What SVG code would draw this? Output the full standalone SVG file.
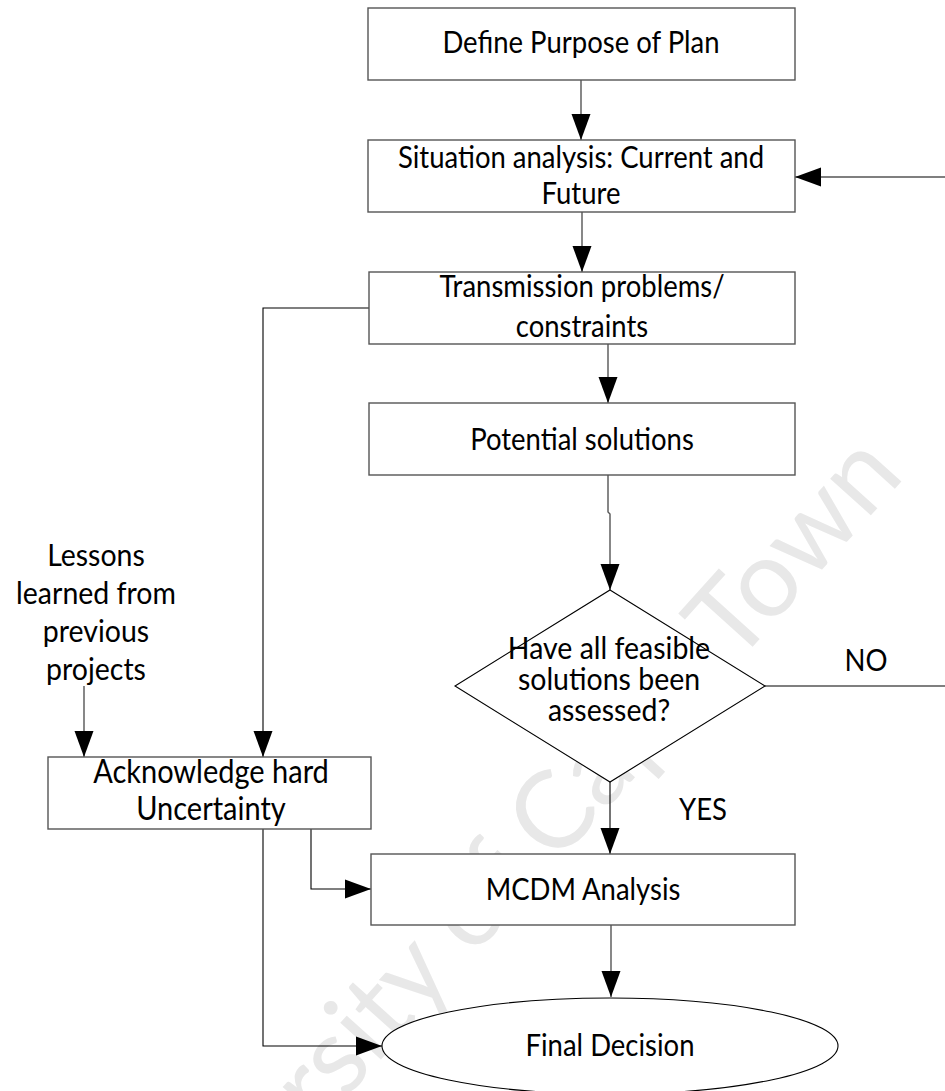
<svg xmlns="http://www.w3.org/2000/svg" width="945" height="1091" viewBox="0 0 945 1091">
<style>
.t{font-family:Lato,"Open Sans","Liberation Sans",sans-serif;font-size:27.5px;fill:#000;text-anchor:middle}
.box{fill:#fff;stroke:#555;stroke-width:1.4}
.shape{fill:#fff;stroke:#000;stroke-width:1.1}
.c{fill:none;stroke:#000;stroke-width:1.1}
.cg{fill:none;stroke:#555;stroke-width:1.4}
.wm{font-family:Lato,"Liberation Sans",sans-serif;font-size:108px;fill:#e8e8e8;text-anchor:middle}
</style>
<defs>
<marker id="ah" markerUnits="userSpaceOnUse" markerWidth="26" markerHeight="20" refX="26" refY="9.5" orient="auto" viewBox="0 0 26 19">
<path d="M0,0 L26,9.5 L0,19 z" fill="#000"/>
</marker>
</defs>
<rect width="945" height="1091" fill="#fff"/>
<text class="wm" transform="translate(520,905) rotate(-48)">University of Cape Town</text>

<g id="connectors">
<path class="cg" d="M581,80 V140" marker-end="url(#ah)"/>
<path class="cg" d="M582,212 V272" marker-end="url(#ah)"/>
<path class="cg" d="M608,344 V403" marker-end="url(#ah)"/>
<path class="cg" d="M608,475 V512 L610,514 V590" marker-end="url(#ah)"/>
<path class="c" d="M945,177 H795" marker-end="url(#ah)"/>
<path class="c" d="M765,686 H945"/>
<path class="c" d="M610,782 V854" marker-end="url(#ah)"/>
<path class="cg" d="M611,925 V997" marker-end="url(#ah)"/>
<path class="c" d="M369,308 H263 V757" marker-end="url(#ah)"/>
<path class="cg" d="M84,686 V757" marker-end="url(#ah)"/>
<path class="c" d="M311,829 V889 H371" marker-end="url(#ah)"/>
<path class="c" d="M263,829 V1046 H382" marker-end="url(#ah)"/>
</g>

<g id="define">
<rect class="box" x="368" y="8" width="427" height="72"/>
<text class="t" transform="translate(581,53) scale(1,1.1)">Define Purpose of Plan</text>
</g>
<g id="situation">
<rect class="box" x="368" y="140" width="427" height="72"/>
<text class="t" transform="translate(581,168) scale(1,1.1)">Situation analysis: Current and<tspan x="0" dy="32.7">Future</tspan></text>
</g>
<g id="transmission">
<rect class="box" x="369" y="272" width="426" height="72"/>
<text class="t" transform="translate(582,297) scale(1,1.1)">Transmission problems/<tspan x="0" dy="36.4">constraints</tspan></text>
</g>
<g id="potential">
<rect class="box" x="369" y="403" width="426" height="72"/>
<text class="t" transform="translate(582,450) scale(1,1.1)">Potential solutions</text>
</g>
<g id="decision">
<polygon class="shape" points="610,590 765,686 610,782 455,686"/>
<text class="t" style="font-size:28.5px" transform="translate(609,659) scale(1,1.1)">Have all feasible<tspan x="0" dy="28">solutions been</tspan><tspan x="0" dy="28">assessed?</tspan></text>
</g>
<g id="label-no"><text class="t" transform="translate(866,671) scale(1,1.1)">NO</text></g>
<g id="label-yes"><text class="t" transform="translate(703,820) scale(1,1.1)">YES</text></g>
<g id="lessons">
<text class="t" style="font-size:28.5px" transform="translate(96,566) scale(1,1.1)">Lessons<tspan x="0" dy="34.5">learned from</tspan><tspan x="0" dy="34.5">previous</tspan><tspan x="0" dy="34.5">projects</tspan></text>
</g>
<g id="acknowledge">
<rect class="box" x="48" y="757" width="323" height="72"/>
<text class="t" style="font-size:29px" transform="translate(211,783) scale(1,1.1)">Acknowledge hard<tspan x="0" dy="33.6">Uncertainty</tspan></text>
</g>
<g id="mcdm">
<rect class="box" x="371" y="854" width="424" height="71"/>
<text class="t" transform="translate(583,900) scale(1,1.1)">MCDM Analysis</text>
</g>
<g id="final">
<ellipse class="shape" cx="610" cy="1046" rx="228" ry="48"/>
<text class="t" transform="translate(610,1056) scale(1,1.1)">Final Decision</text>
</g>
</svg>
